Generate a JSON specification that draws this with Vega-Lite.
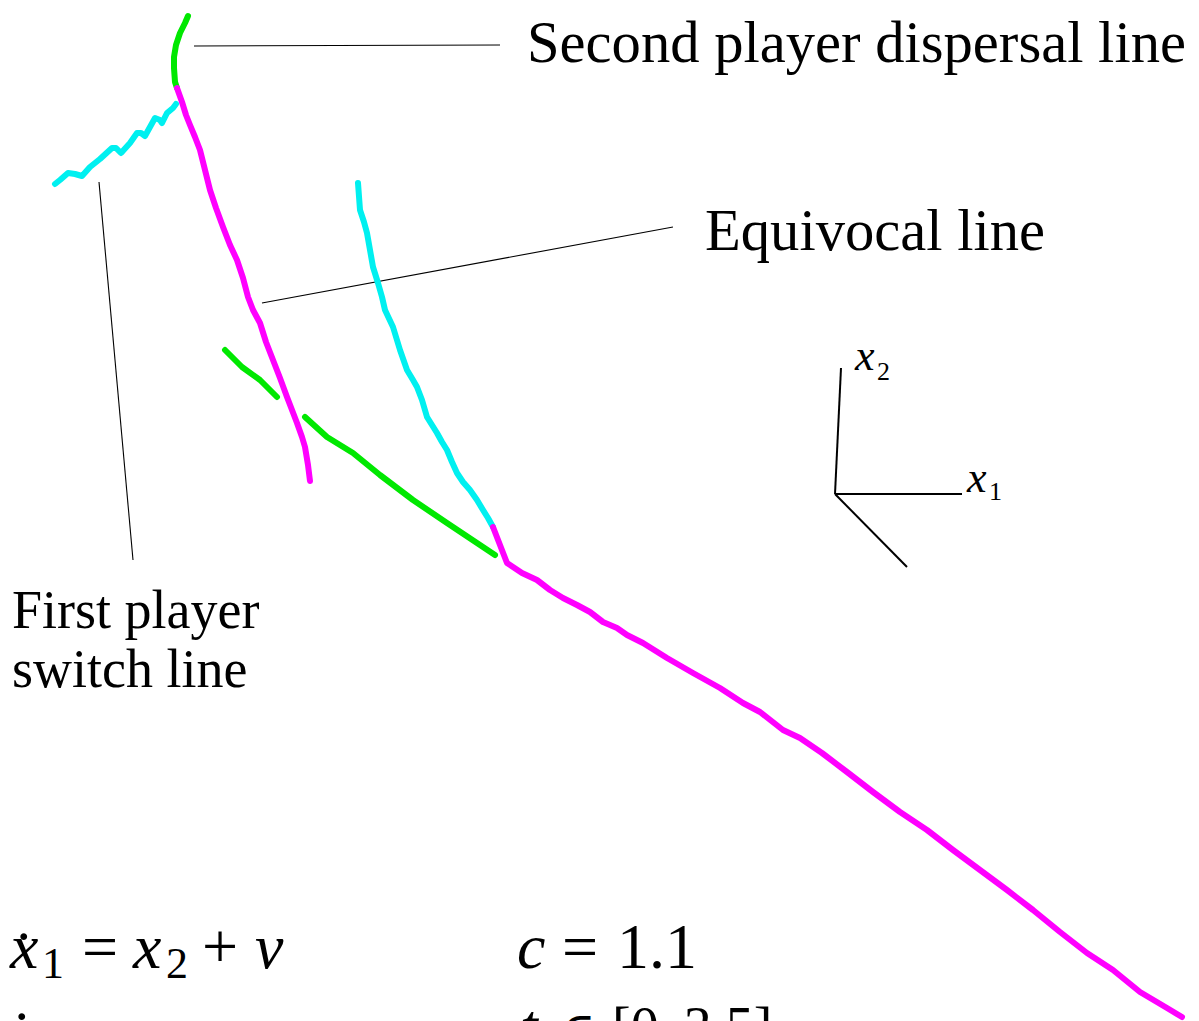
{
  "$schema": "https://vega.github.io/schema/vega-lite/v6.json",
  "width": 1199,
  "height": 1021,
  "autosize": "none",
  "padding": 0,
  "background": "white",
  "config": {"view": {"stroke": null}},
  "datasets": {
    "curves": [
      {"family": "dispersal", "piece": "g1", "ord": 1, "x": 188, "y": 16},
      {"family": "dispersal", "piece": "g1", "ord": 2, "x": 185, "y": 23},
      {"family": "dispersal", "piece": "g1", "ord": 3, "x": 180, "y": 33},
      {"family": "dispersal", "piece": "g1", "ord": 4, "x": 176, "y": 45},
      {"family": "dispersal", "piece": "g1", "ord": 5, "x": 174, "y": 57},
      {"family": "dispersal", "piece": "g1", "ord": 6, "x": 174, "y": 68},
      {"family": "dispersal", "piece": "g1", "ord": 7, "x": 175, "y": 82},
      {"family": "dispersal", "piece": "g1", "ord": 8, "x": 177, "y": 88},

      {"family": "equivocal", "piece": "m1", "ord": 1, "x": 177, "y": 88},
      {"family": "equivocal", "piece": "m1", "ord": 2, "x": 182, "y": 102},
      {"family": "equivocal", "piece": "m1", "ord": 3, "x": 186, "y": 115},
      {"family": "equivocal", "piece": "m1", "ord": 4, "x": 190, "y": 125},
      {"family": "equivocal", "piece": "m1", "ord": 5, "x": 195, "y": 137},
      {"family": "equivocal", "piece": "m1", "ord": 6, "x": 200, "y": 150},
      {"family": "equivocal", "piece": "m1", "ord": 7, "x": 205, "y": 170},
      {"family": "equivocal", "piece": "m1", "ord": 8, "x": 210, "y": 190},
      {"family": "equivocal", "piece": "m1", "ord": 9, "x": 216, "y": 208},
      {"family": "equivocal", "piece": "m1", "ord": 10, "x": 223, "y": 227},
      {"family": "equivocal", "piece": "m1", "ord": 11, "x": 230, "y": 245},
      {"family": "equivocal", "piece": "m1", "ord": 12, "x": 237, "y": 260},
      {"family": "equivocal", "piece": "m1", "ord": 13, "x": 243, "y": 278},
      {"family": "equivocal", "piece": "m1", "ord": 14, "x": 248, "y": 297},
      {"family": "equivocal", "piece": "m1", "ord": 15, "x": 253, "y": 310},
      {"family": "equivocal", "piece": "m1", "ord": 16, "x": 260, "y": 323},
      {"family": "equivocal", "piece": "m1", "ord": 17, "x": 266, "y": 342},
      {"family": "equivocal", "piece": "m1", "ord": 18, "x": 273, "y": 360},
      {"family": "equivocal", "piece": "m1", "ord": 19, "x": 280, "y": 378},
      {"family": "equivocal", "piece": "m1", "ord": 20, "x": 287, "y": 397},
      {"family": "equivocal", "piece": "m1", "ord": 21, "x": 292, "y": 410},
      {"family": "equivocal", "piece": "m1", "ord": 22, "x": 297, "y": 423},
      {"family": "equivocal", "piece": "m1", "ord": 23, "x": 302, "y": 437},
      {"family": "equivocal", "piece": "m1", "ord": 24, "x": 305, "y": 447},
      {"family": "equivocal", "piece": "m1", "ord": 25, "x": 308, "y": 465},
      {"family": "equivocal", "piece": "m1", "ord": 26, "x": 310, "y": 481},

      {"family": "switch", "piece": "c1", "ord": 1, "x": 55, "y": 184},
      {"family": "switch", "piece": "c1", "ord": 2, "x": 60, "y": 180},
      {"family": "switch", "piece": "c1", "ord": 3, "x": 68, "y": 173},
      {"family": "switch", "piece": "c1", "ord": 4, "x": 75, "y": 174},
      {"family": "switch", "piece": "c1", "ord": 5, "x": 82, "y": 176},
      {"family": "switch", "piece": "c1", "ord": 6, "x": 90, "y": 167},
      {"family": "switch", "piece": "c1", "ord": 7, "x": 100, "y": 159},
      {"family": "switch", "piece": "c1", "ord": 8, "x": 112, "y": 148},
      {"family": "switch", "piece": "c1", "ord": 9, "x": 116, "y": 148},
      {"family": "switch", "piece": "c1", "ord": 10, "x": 121, "y": 153},
      {"family": "switch", "piece": "c1", "ord": 11, "x": 130, "y": 143},
      {"family": "switch", "piece": "c1", "ord": 12, "x": 137, "y": 133},
      {"family": "switch", "piece": "c1", "ord": 13, "x": 141, "y": 133},
      {"family": "switch", "piece": "c1", "ord": 14, "x": 145, "y": 136},
      {"family": "switch", "piece": "c1", "ord": 15, "x": 155, "y": 118},
      {"family": "switch", "piece": "c1", "ord": 16, "x": 160, "y": 120},
      {"family": "switch", "piece": "c1", "ord": 17, "x": 162, "y": 123},
      {"family": "switch", "piece": "c1", "ord": 18, "x": 167, "y": 113},
      {"family": "switch", "piece": "c1", "ord": 19, "x": 173, "y": 108},
      {"family": "switch", "piece": "c1", "ord": 20, "x": 176, "y": 104},

      {"family": "switch", "piece": "c2", "ord": 1, "x": 358, "y": 183},
      {"family": "switch", "piece": "c2", "ord": 2, "x": 360, "y": 210},
      {"family": "switch", "piece": "c2", "ord": 3, "x": 364, "y": 222},
      {"family": "switch", "piece": "c2", "ord": 4, "x": 367, "y": 233},
      {"family": "switch", "piece": "c2", "ord": 5, "x": 370, "y": 250},
      {"family": "switch", "piece": "c2", "ord": 6, "x": 373, "y": 267},
      {"family": "switch", "piece": "c2", "ord": 7, "x": 378, "y": 283},
      {"family": "switch", "piece": "c2", "ord": 8, "x": 382, "y": 297},
      {"family": "switch", "piece": "c2", "ord": 9, "x": 385, "y": 310},
      {"family": "switch", "piece": "c2", "ord": 10, "x": 393, "y": 327},
      {"family": "switch", "piece": "c2", "ord": 11, "x": 400, "y": 350},
      {"family": "switch", "piece": "c2", "ord": 12, "x": 407, "y": 370},
      {"family": "switch", "piece": "c2", "ord": 13, "x": 413, "y": 380},
      {"family": "switch", "piece": "c2", "ord": 14, "x": 417, "y": 387},
      {"family": "switch", "piece": "c2", "ord": 15, "x": 422, "y": 400},
      {"family": "switch", "piece": "c2", "ord": 16, "x": 427, "y": 417},
      {"family": "switch", "piece": "c2", "ord": 17, "x": 432, "y": 425},
      {"family": "switch", "piece": "c2", "ord": 18, "x": 437, "y": 433},
      {"family": "switch", "piece": "c2", "ord": 19, "x": 442, "y": 442},
      {"family": "switch", "piece": "c2", "ord": 20, "x": 447, "y": 450},
      {"family": "switch", "piece": "c2", "ord": 21, "x": 452, "y": 462},
      {"family": "switch", "piece": "c2", "ord": 22, "x": 457, "y": 473},
      {"family": "switch", "piece": "c2", "ord": 23, "x": 463, "y": 482},
      {"family": "switch", "piece": "c2", "ord": 24, "x": 470, "y": 490},
      {"family": "switch", "piece": "c2", "ord": 25, "x": 477, "y": 500},
      {"family": "switch", "piece": "c2", "ord": 26, "x": 483, "y": 510},
      {"family": "switch", "piece": "c2", "ord": 27, "x": 488, "y": 518},
      {"family": "switch", "piece": "c2", "ord": 28, "x": 493, "y": 527},

      {"family": "equivocal", "piece": "m2", "ord": 1, "x": 493, "y": 527},
      {"family": "equivocal", "piece": "m2", "ord": 2, "x": 507, "y": 563},
      {"family": "equivocal", "piece": "m2", "ord": 3, "x": 522, "y": 573},
      {"family": "equivocal", "piece": "m2", "ord": 4, "x": 537, "y": 580},
      {"family": "equivocal", "piece": "m2", "ord": 5, "x": 550, "y": 590},
      {"family": "equivocal", "piece": "m2", "ord": 6, "x": 563, "y": 598},
      {"family": "equivocal", "piece": "m2", "ord": 7, "x": 577, "y": 605},
      {"family": "equivocal", "piece": "m2", "ord": 8, "x": 590, "y": 612},
      {"family": "equivocal", "piece": "m2", "ord": 9, "x": 603, "y": 622},
      {"family": "equivocal", "piece": "m2", "ord": 10, "x": 617, "y": 628},
      {"family": "equivocal", "piece": "m2", "ord": 11, "x": 627, "y": 635},
      {"family": "equivocal", "piece": "m2", "ord": 12, "x": 643, "y": 643},
      {"family": "equivocal", "piece": "m2", "ord": 13, "x": 667, "y": 658},
      {"family": "equivocal", "piece": "m2", "ord": 14, "x": 693, "y": 673},
      {"family": "equivocal", "piece": "m2", "ord": 15, "x": 720, "y": 688},
      {"family": "equivocal", "piece": "m2", "ord": 16, "x": 743, "y": 703},
      {"family": "equivocal", "piece": "m2", "ord": 17, "x": 760, "y": 712},
      {"family": "equivocal", "piece": "m2", "ord": 18, "x": 783, "y": 730},
      {"family": "equivocal", "piece": "m2", "ord": 19, "x": 800, "y": 738},
      {"family": "equivocal", "piece": "m2", "ord": 20, "x": 822, "y": 753},
      {"family": "equivocal", "piece": "m2", "ord": 21, "x": 847, "y": 772},
      {"family": "equivocal", "piece": "m2", "ord": 22, "x": 873, "y": 792},
      {"family": "equivocal", "piece": "m2", "ord": 23, "x": 900, "y": 812},
      {"family": "equivocal", "piece": "m2", "ord": 24, "x": 927, "y": 830},
      {"family": "equivocal", "piece": "m2", "ord": 25, "x": 953, "y": 850},
      {"family": "equivocal", "piece": "m2", "ord": 26, "x": 980, "y": 870},
      {"family": "equivocal", "piece": "m2", "ord": 27, "x": 1007, "y": 890},
      {"family": "equivocal", "piece": "m2", "ord": 28, "x": 1033, "y": 910},
      {"family": "equivocal", "piece": "m2", "ord": 29, "x": 1060, "y": 932},
      {"family": "equivocal", "piece": "m2", "ord": 30, "x": 1087, "y": 953},
      {"family": "equivocal", "piece": "m2", "ord": 31, "x": 1113, "y": 970},
      {"family": "equivocal", "piece": "m2", "ord": 32, "x": 1140, "y": 992},
      {"family": "equivocal", "piece": "m2", "ord": 33, "x": 1167, "y": 1008},
      {"family": "equivocal", "piece": "m2", "ord": 34, "x": 1182, "y": 1017},

      {"family": "dispersal", "piece": "g2", "ord": 1, "x": 225, "y": 350},
      {"family": "dispersal", "piece": "g2", "ord": 2, "x": 242, "y": 367},
      {"family": "dispersal", "piece": "g2", "ord": 3, "x": 260, "y": 380},
      {"family": "dispersal", "piece": "g2", "ord": 4, "x": 277, "y": 397},

      {"family": "dispersal", "piece": "g3", "ord": 1, "x": 305, "y": 417},
      {"family": "dispersal", "piece": "g3", "ord": 2, "x": 327, "y": 437},
      {"family": "dispersal", "piece": "g3", "ord": 3, "x": 353, "y": 453},
      {"family": "dispersal", "piece": "g3", "ord": 4, "x": 380, "y": 475},
      {"family": "dispersal", "piece": "g3", "ord": 5, "x": 413, "y": 500},
      {"family": "dispersal", "piece": "g3", "ord": 6, "x": 447, "y": 523},
      {"family": "dispersal", "piece": "g3", "ord": 7, "x": 480, "y": 545},
      {"family": "dispersal", "piece": "g3", "ord": 8, "x": 495, "y": 555}
    ],
    "leaders": [
      {"piece": "dispersal", "ord": 1, "x": 194, "y": 46},
      {"piece": "dispersal", "ord": 2, "x": 500, "y": 45},
      {"piece": "equivocal", "ord": 1, "x": 262, "y": 303},
      {"piece": "equivocal", "ord": 2, "x": 673, "y": 227},
      {"piece": "switch", "ord": 1, "x": 99, "y": 182},
      {"piece": "switch", "ord": 2, "x": 133, "y": 560}
    ],
    "frame": [
      {"piece": "x1", "ord": 1, "x": 835, "y": 494},
      {"piece": "x1", "ord": 2, "x": 962, "y": 494},
      {"piece": "x2", "ord": 1, "x": 835, "y": 494},
      {"piece": "x2", "ord": 2, "x": 841, "y": 368},
      {"piece": "x3", "ord": 1, "x": 835, "y": 494},
      {"piece": "x3", "ord": 2, "x": 907, "y": 567}
    ],
    "captions": [
      {"t": "Second player dispersal line", "x": 527, "y": 62},
      {"t": "Equivocal line", "x": 705, "y": 250}
    ],
    "captionsSmall": [
      {"t": "First player", "x": 12, "y": 628},
      {"t": "switch line", "x": 12, "y": 687}
    ],
    "axisNames": [
      {"t": "x", "x": 855, "y": 370},
      {"t": "x", "x": 967, "y": 492}
    ],
    "axisSubs": [
      {"t": "2", "x": 877, "y": 380},
      {"t": "1", "x": 989, "y": 500}
    ],
    "mathItalic": [
      {"t": "x", "x": 10, "y": 968},
      {"t": "x", "x": 133, "y": 968},
      {"t": "v", "x": 255, "y": 968},
      {"t": "c", "x": 517, "y": 968},
      {"t": "x", "x": 10, "y": 1050},
      {"t": "t", "x": 520, "y": 1048}
    ],
    "mathRoman": [
      {"t": "˙", "x": 13, "y": 975},
      {"t": "=", "x": 82, "y": 968},
      {"t": "+", "x": 202, "y": 968},
      {"t": "=", "x": 562, "y": 968},
      {"t": "1.1", "x": 617, "y": 968},
      {"t": "˙", "x": 11, "y": 1055}
    ],
    "mathRomanSmall": [
      {"t": "[0,\u20093.5]", "x": 612, "y": 1046}
    ],
    "mathSymbols": [
      {"t": "∈", "x": 560, "y": 1046}
    ],
    "mathSubs": [
      {"t": "1", "x": 42, "y": 978},
      {"t": "2", "x": 166, "y": 978},
      {"t": "2", "x": 42, "y": 1060}
    ]
  },
  "encoding": {
    "x": {"field": "x", "type": "quantitative", "axis": null,
          "scale": {"domain": [0, 1199], "nice": false, "zero": false}},
    "y": {"field": "y", "type": "quantitative", "axis": null,
          "scale": {"domain": [0, 1021], "reverse": true, "nice": false, "zero": false}}
  },
  "layer": [
    {
      "data": {"name": "leaders"},
      "mark": {"type": "line", "color": "black", "strokeWidth": 1.1},
      "encoding": {"detail": {"field": "piece"}, "order": {"field": "ord"}}
    },
    {
      "data": {"name": "frame"},
      "mark": {"type": "line", "color": "black", "strokeWidth": 2},
      "encoding": {"detail": {"field": "piece"}, "order": {"field": "ord"}}
    },
    {
      "data": {"name": "curves"},
      "mark": {"type": "line", "strokeWidth": 6, "strokeCap": "round", "strokeJoin": "round"},
      "encoding": {
        "color": {"field": "family", "type": "nominal", "legend": null,
                  "scale": {"domain": ["dispersal", "equivocal", "switch"],
                            "range": ["#00e800", "#ff00ff", "#00f0f0"]}},
        "detail": {"field": "piece"},
        "order": {"field": "ord"}
      }
    },
    {
      "data": {"name": "captions"},
      "mark": {"type": "text", "font": "Liberation Serif", "fontSize": 58.6, "align": "left", "baseline": "alphabetic", "color": "black"},
      "encoding": {"text": {"field": "t"}}
    },
    {
      "data": {"name": "captionsSmall"},
      "mark": {"type": "text", "font": "Liberation Serif", "fontSize": 54, "align": "left", "baseline": "alphabetic", "color": "black"},
      "encoding": {"text": {"field": "t"}}
    },
    {
      "data": {"name": "axisNames"},
      "mark": {"type": "text", "font": "Liberation Serif", "fontStyle": "italic", "fontSize": 44, "align": "left", "baseline": "alphabetic", "color": "black"},
      "encoding": {"text": {"field": "t"}}
    },
    {
      "data": {"name": "axisSubs"},
      "mark": {"type": "text", "font": "Liberation Serif", "fontSize": 26, "align": "left", "baseline": "alphabetic", "color": "black"},
      "encoding": {"text": {"field": "t"}}
    },
    {
      "data": {"name": "mathItalic"},
      "mark": {"type": "text", "font": "Liberation Serif", "fontStyle": "italic", "fontSize": 64, "align": "left", "baseline": "alphabetic", "color": "black", "clip": true},
      "encoding": {"text": {"field": "t"}}
    },
    {
      "data": {"name": "mathRoman"},
      "mark": {"type": "text", "font": "Liberation Serif", "fontSize": 64, "align": "left", "baseline": "alphabetic", "color": "black", "clip": true},
      "encoding": {"text": {"field": "t"}}
    },
    {
      "data": {"name": "mathRomanSmall"},
      "mark": {"type": "text", "font": "Liberation Serif", "fontSize": 56, "align": "left", "baseline": "alphabetic", "color": "black", "clip": true},
      "encoding": {"text": {"field": "t"}}
    },
    {
      "data": {"name": "mathSymbols"},
      "mark": {"type": "text", "font": "DejaVu Serif", "fontSize": 48, "align": "left", "baseline": "alphabetic", "color": "black", "clip": true},
      "encoding": {"text": {"field": "t"}}
    },
    {
      "data": {"name": "mathSubs"},
      "mark": {"type": "text", "font": "Liberation Serif", "fontSize": 44, "align": "left", "baseline": "alphabetic", "color": "black", "clip": true},
      "encoding": {"text": {"field": "t"}}
    }
  ]
}
